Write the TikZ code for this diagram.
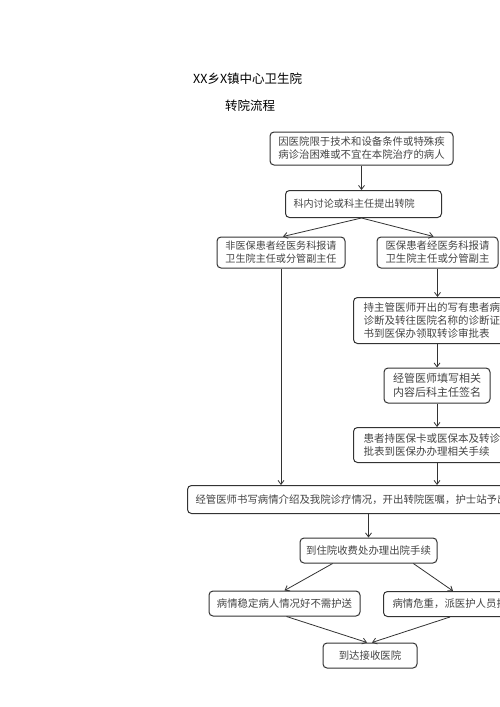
\documentclass[tikz,border=0pt]{standalone}
\usepackage{fontspec}
\newfontfamily\cjk{Noto Sans CJK SC}
\usetikzlibrary{arrows.meta,calc}
\definecolor{boxline}{HTML}{333333}
\definecolor{boxtext}{HTML}{444444}
\tikzset{
  box/.style={draw=boxline, line width=1pt, rounded corners=4pt, text=boxtext,
    font=\cjk\fontsize{10.4}{13}\selectfont, inner sep=0pt, align=center},
  lbox/.style={box, anchor=north west, align=left},
  conn/.style={draw=boxline, line width=0.8pt, -{Straight Barb[length=4pt,width=6pt]}},
  title/.style={anchor=west, inner sep=0pt, font=\cjk\fontsize{12.5}{14}\selectfont}
}
\begin{document}
\begin{tikzpicture}[x=1pt,y=-1pt]
\useasboundingbox (0,0) rectangle (500,707);
\fill[white] (0,0) rectangle (500,707);
\clip (0,0) rectangle (500,707);

\node[title] (t1) at (193,79) {XX乡X镇中心卫生院};
\node[title] (t2) at (225,106) {转院流程};

\node[box, minimum width=183pt, minimum height=33pt] (b1) at (361.5,148.5)
  {因医院限于技术和设备条件或特殊疾\\病诊治困难或不宜在本院治疗的病人};
\node[lbox, text width=140pt, inner xsep=8pt, minimum height=27pt,
  font=\cjk\fontsize{10.1}{13}\selectfont] (b2) at (285,190)
  {科内讨论或科主任提出转院};
\node[box, minimum width=128pt, minimum height=31pt,
  font=\cjk\fontsize{10.1}{13}\selectfont] (b3) at (281,252.5)
  {非医保患者经医务科报请\\卫生院主任或分管副主任};
\node[box, minimum width=121pt, minimum height=31pt] (b4) at (437.5,252.5)
  {医保患者经医务科报请\\卫生院主任或分管副主};
\node[lbox, text width=160pt, inner xsep=10pt, minimum height=46pt,
  font=\cjk\fontsize{10.5}{12.8}\selectfont] (b5) at (353,297)
  {持主管医师开出的写有患者病\\诊断及转往医院名称的诊断证\\书到医保办领取转诊审批表};
\node[box, minimum width=106pt, minimum height=35pt,
  font=\cjk\fontsize{11}{13.5}\selectfont] (b6) at (437,385.5)
  {经管医师填写相关\\内容后科主任签名};
\node[lbox, text width=160pt, inner xsep=10pt, minimum height=35pt,
  font=\cjk\fontsize{10.5}{13}\selectfont] (b7) at (353,427)
  {患者持医保卡或医保本及转诊\\批表到医保办办理相关手续};
\node[lbox, text width=340pt, inner xsep=8pt, minimum height=28pt] (b8) at (187,485)
  {经管医师书写病情介绍及我院诊疗情况，开出转院医嘱，护士站予出院};
\node[box, minimum width=137pt, minimum height=25pt] (b9) at (368.5,550.5)
  {到住院收费处办理出院手续};
\node[box, minimum width=151pt, minimum height=25pt] (b10) at (284.5,603.5)
  {病情稳定病人情况好不需护送};
\node[lbox, text width=140pt, inner xsep=9pt, minimum height=25pt] (b11) at (383,591)
  {病情危重，派医护人员护送};
\node[box, minimum width=94pt, minimum height=25pt] (b12) at (370,655.5)
  {到达接收医院};

\path[conn] (b1.south) -- (b1.south |- b2.north);
\path[conn] (b1.south |- b2.south) -- ($(b3.north)+(2,0)$);
\path[conn] (b1.south |- b2.south) -- ($(b4.north)+(-4,0)$);
\path[conn] (b3.south) -- (b3.south |- b8.north);
\path[conn] (b4.south) -- (b4.south |- b5.north);
\path[conn] (b6.north |- b5.south) -- (b6.north);
\path[conn] (b6.south) -- (b6.south |- b7.north);
\path[conn] (b6.south |- b7.south) -- (b6.south |- b8.north);
\path[conn] (b9.north |- b8.south) -- (b9.north);
\path[conn] ($(b9.south west)!0.24!(b9.south east)$) -- (b10.north);
\path[conn] ($(b9.south west)!0.825!(b9.south east)$) -- ($(b11.north west)+(70,0)$);
\path[conn] ($(b10.south)+(2,0)$) -- ($(b12.north)+(-3,0)$);
\path[conn] ($(b11.south west)+(67,0)$) -- ($(b12.north)+(2,0)$);
\end{tikzpicture}
\end{document}
